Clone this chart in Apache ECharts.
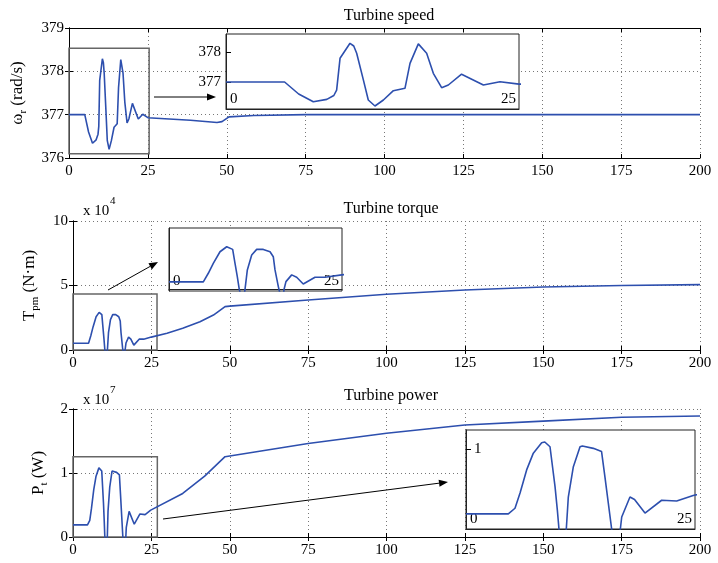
<!DOCTYPE html>
<html>
<head>
<meta charset="utf-8">
<script src="https://cdn.jsdelivr.net/npm/echarts@6/dist/echarts.min.js"></script>
<style>
  html, body { margin: 0; padding: 0; background: #fff; }
  #chart { width: 718px; height: 563px; }
</style>
</head>
<body>
<div id="chart"></div>
<script>
// 时间 (s) 与转速 (rad/s)
const speedT = [0, 5.0, 6.2, 7.45, 8.6, 9.2, 9.44, 9.73, 10.58, 10.9, 11.15, 11.72, 12.14, 12.71, 13.43, 14.28, 15.27, 15.7, 16.41, 17.12, 17.69, 18.4, 18.97, 20.1, 21.96, 23.38, 25, 38.5, 46.9, 48.5, 50.7, 58.6, 75, 200];
const speed = [377.0, 377.0, 376.6, 376.34, 376.42, 376.55, 376.73, 377.79, 378.29, 378.2, 377.96, 377.07, 376.4, 376.2, 376.4, 376.71, 376.79, 377.62, 378.27, 377.96, 377.29, 376.81, 376.9, 377.26, 376.9, 377.01, 376.93, 376.87, 376.82, 376.84, 376.95, 376.98, 377.0, 377.0];

// 转矩 (x 10^4 N·m)
const torqueT = [0, 4.96, 5.68, 6.4, 7.37, 8.34, 9.2, 9.54, 9.87, 10.16, 10.5, 10.8, 10.98, 11.32, 11.95, 12.67, 13.63, 14.6, 15.07, 15.32, 15.8, 15.9, 16.2, 16.5, 16.62, 16.9, 17.73, 18.45, 19.4, 21.1, 22.54, 24.96, 30, 35, 40.5, 44.8, 48.5, 50, 75, 100, 125, 150, 175, 200];
const torque = [0.52, 0.52, 1.11, 1.79, 2.58, 2.92, 2.74, 1.79, 0.88, 0.0, -0.6, -0.6, 0.0, 1.34, 2.36, 2.74, 2.74, 2.58, 2.24, 1.34, 0.2, 0.0, -0.6, -0.6, 0.0, 0.54, 1.0, 0.84, 0.38, 0.84, 0.84, 1.0, 1.3, 1.68, 2.19, 2.71, 3.36, 3.40, 3.88, 4.32, 4.65, 4.88, 5.0, 5.07];

// 功率 (x 10^7 W)
const powerT = [0, 4.62, 5.35, 5.9, 6.62, 7.35, 8.26, 8.6, 9.17, 9.72, 9.97, 10.15, 10.5, 10.95, 11.17, 11.72, 12.45, 12.7, 13.9, 14.8, 15.17, 15.54, 15.9, 16.4, 16.85, 17.0, 17.9, 18.4, 19.54, 21.36, 23.0, 24.8, 35, 42, 48.5, 75, 100, 125, 150, 175, 200];
const power = [0.19, 0.19, 0.26, 0.45, 0.74, 0.95, 1.08, 1.09, 1.03, 0.53, 0.24, 0.0, -0.3, 0.0, 0.40, 0.78, 1.03, 1.04, 1.01, 0.97, 0.65, 0.32, 0.0, -0.3, 0.0, 0.15, 0.40, 0.37, 0.20, 0.36, 0.35, 0.42, 0.68, 0.95, 1.255, 1.46, 1.62, 1.75, 1.81, 1.87, 1.89];

// 放大图的纵轴刻度
const speedInsetTicks = [377, 378];
const powerInsetTicks = [1];

const titles = ["Turbine speed", "Turbine torque", "Turbine power"];

const FONT = "Liberation Serif";
const BLUE = "#2d4fae";

function pairs(t, v) {
    return t.map((x, i) => [x, v[i]]);
}

const chart = echarts.init(document.getElementById("chart"));

// 主图坐标轴 (带镜像的上/右轴, MATLAB 风格边框)
function mainX(grid) {
    return [
        {
            type: "value", gridIndex: grid, min: 0, max: 200, interval: 25,
            axisLine: { lineStyle: { color: "#000" } },
            axisTick: { inside: true, length: 4, lineStyle: { color: "#000" } },
            axisLabel: { color: "#000", fontFamily: FONT, fontSize: 15, margin: 6 },
            splitLine: { show: true, lineStyle: { color: "#777", type: [1, 3] } },
        },
        {
            type: "value", gridIndex: grid, position: "top", min: 0, max: 200, interval: 25,
            axisLine: { lineStyle: { color: "#000" } },
            axisTick: { inside: true, length: 4, lineStyle: { color: "#000" } },
            axisLabel: { show: false },
            splitLine: { show: false },
        },
    ];
}

function mainY(grid, min, max, step, name, gap) {
    return [
        {
            type: "value", gridIndex: grid, min: min, max: max, interval: step,
            name: name, nameLocation: "middle", nameGap: gap,
            nameTextStyle: {
                rich: {
                    a: { fontFamily: FONT, fontSize: 17, color: "#000", lineHeight: 22 },
                    s: { fontFamily: FONT, fontSize: 11, color: "#000", verticalAlign: "bottom" },
                },
            },
            axisLine: { lineStyle: { color: "#000" } },
            axisTick: { inside: true, length: 4, lineStyle: { color: "#000" } },
            axisLabel: { color: "#000", fontFamily: FONT, fontSize: 15, margin: 5 },
            splitLine: { show: true, lineStyle: { color: "#777", type: [1, 3] } },
        },
        {
            type: "value", gridIndex: grid, position: "right", min: min, max: max, interval: step,
            axisLine: { lineStyle: { color: "#000" } },
            axisTick: { inside: true, length: 4, lineStyle: { color: "#000" } },
            axisLabel: { show: false },
            splitLine: { show: false },
        },
    ];
}

// 放大图坐标轴
function insetX(grid) {
    return {
        type: "value", gridIndex: grid, min: 0, max: 25, interval: 25, z: 10,
        axisLine: { lineStyle: { color: "#222" } },
        axisTick: { show: false },
        axisLabel: {
            inside: true, margin: 2, color: "#000", fontFamily: FONT, fontSize: 15,
            alignMinLabel: "left", alignMaxLabel: "right", padding: [0, 3, 0, 4],
        },
        splitLine: { show: false },
    };
}

function insetY(grid, min, max, ticks, inside) {
    const show = ticks.length > 0;
    return {
        type: "value", gridIndex: grid, min: min, max: max, z: 10,
        axisLine: { lineStyle: { color: "#222" } },
        axisTick: { show: show, inside: true, length: 5, customValues: ticks, lineStyle: { color: "#000" } },
        axisLabel: {
            show: show, inside: inside, margin: inside ? 8 : 5, customValues: ticks,
            color: "#000", fontFamily: FONT, fontSize: 15,
        },
        splitLine: { show: false },
    };
}

function insetGrid(left, top, width, height) {
    return {
        left: left, top: top, width: width, height: height, z: 10,
        show: true, backgroundColor: "#fff", borderColor: "#222", borderWidth: 1,
    };
}

function box(x1, y1, x2, y2) {
    return {
        silent: true,
        itemStyle: { color: "rgba(0,0,0,0)", borderColor: "#666", borderWidth: 1.5 },
        data: [[{ xAxis: x1, yAxis: y1 }, { xAxis: x2, yAxis: y2 }]],
    };
}

function line(xi, yi, data, z, area) {
    const s = {
        type: "line", xAxisIndex: xi, yAxisIndex: yi, data: data, z: z,
        showSymbol: false, clip: true, animation: false,
        lineStyle: { color: BLUE, width: 1.6 },
    };
    if (area) s.markArea = area;
    return s;
}

function arrow(x1, y1, x2, y2) {
    const ang = Math.atan2(y2 - y1, x2 - x1);
    const L = 9, W = 3.5;
    const bx = x2 - L * Math.cos(ang), by = y2 - L * Math.sin(ang);
    const px = -Math.sin(ang) * W, py = Math.cos(ang) * W;
    return [
        { type: "line", z: 50, shape: { x1: x1, y1: y1, x2: bx, y2: by }, style: { stroke: "#000", lineWidth: 1 } },
        { type: "polygon", z: 50, shape: { points: [[x2, y2], [bx + px, by + py], [bx - px, by - py]] }, style: { fill: "#000" } },
    ];
}

function text(x, y, str, size) {
    return { type: "text", z: 50, left: x, top: y, style: { text: str, fontFamily: FONT, fontSize: size, fill: "#000" } };
}

const xAxes = [].concat(mainX(0), [insetX(1)], mainX(2), [insetX(3)], mainX(4), [insetX(5)]);
const yAxes = [].concat(
    mainY(0, 376, 379, 1, "{a|ω}{s|r}{a| (rad/s)}", 40), [insetY(1, 376.1, 378.6, speedInsetTicks, false)],
    mainY(2, 0, 10, 5, "{a|T}{s|pm}{a| (N·m)}", 32), [insetY(3, -0.1, 4.2, [], false)],
    mainY(4, 0, 2, 1, "{a|P}{s|t}{a| (W)}", 21), [insetY(5, 0, 1.24, powerInsetTicks, true)]
);

chart.setOption({
    animation: false,
    backgroundColor: "#fff",
    title: [
        { text: titles[0], left: 384, top: 3, textAlign: "center", textStyle: { fontFamily: FONT, fontSize: 16, fontWeight: "normal", color: "#000" } },
        { text: titles[1], left: 386, top: 196, textAlign: "center", textStyle: { fontFamily: FONT, fontSize: 16, fontWeight: "normal", color: "#000" } },
        { text: titles[2], left: 386, top: 383, textAlign: "center", textStyle: { fontFamily: FONT, fontSize: 16, fontWeight: "normal", color: "#000" } },
    ],
    grid: [
        { left: 69, top: 28, width: 631, height: 130 },
        insetGrid(226, 34, 293, 75),
        { left: 73, top: 221, width: 627, height: 129 },
        insetGrid(169, 228, 173, 63),
        { left: 73, top: 409, width: 627, height: 128 },
        insetGrid(466, 430, 229, 99),
    ],
    xAxis: xAxes,
    yAxis: yAxes,
    series: [
        line(0, 0, pairs(speedT, speed), 2, box(0, 376.1, 25.4, 378.53)),
        line(2, 2, pairs(speedT, speed), 20),
        line(3, 3, pairs(torqueT, torque), 2, box(0, 0, 26.8, 4.34)),
        line(5, 5, pairs(torqueT, torque), 20),
        line(6, 6, pairs(powerT, power), 2, box(0, 0, 26.9, 1.255)),
        line(8, 8, pairs(powerT, power), 20),
    ],
    graphic: [].concat(
        arrow(154, 97, 216, 97),
        arrow(108, 290, 158, 262),
        arrow(163, 519, 448, 482),
        [
            text(83, 204, "x 10", 15),
            text(110, 196, "4", 11),
            text(83, 393, "x 10", 15),
            text(110, 385, "7", 11),
        ]
    ),
});
</script>
</body>
</html>
